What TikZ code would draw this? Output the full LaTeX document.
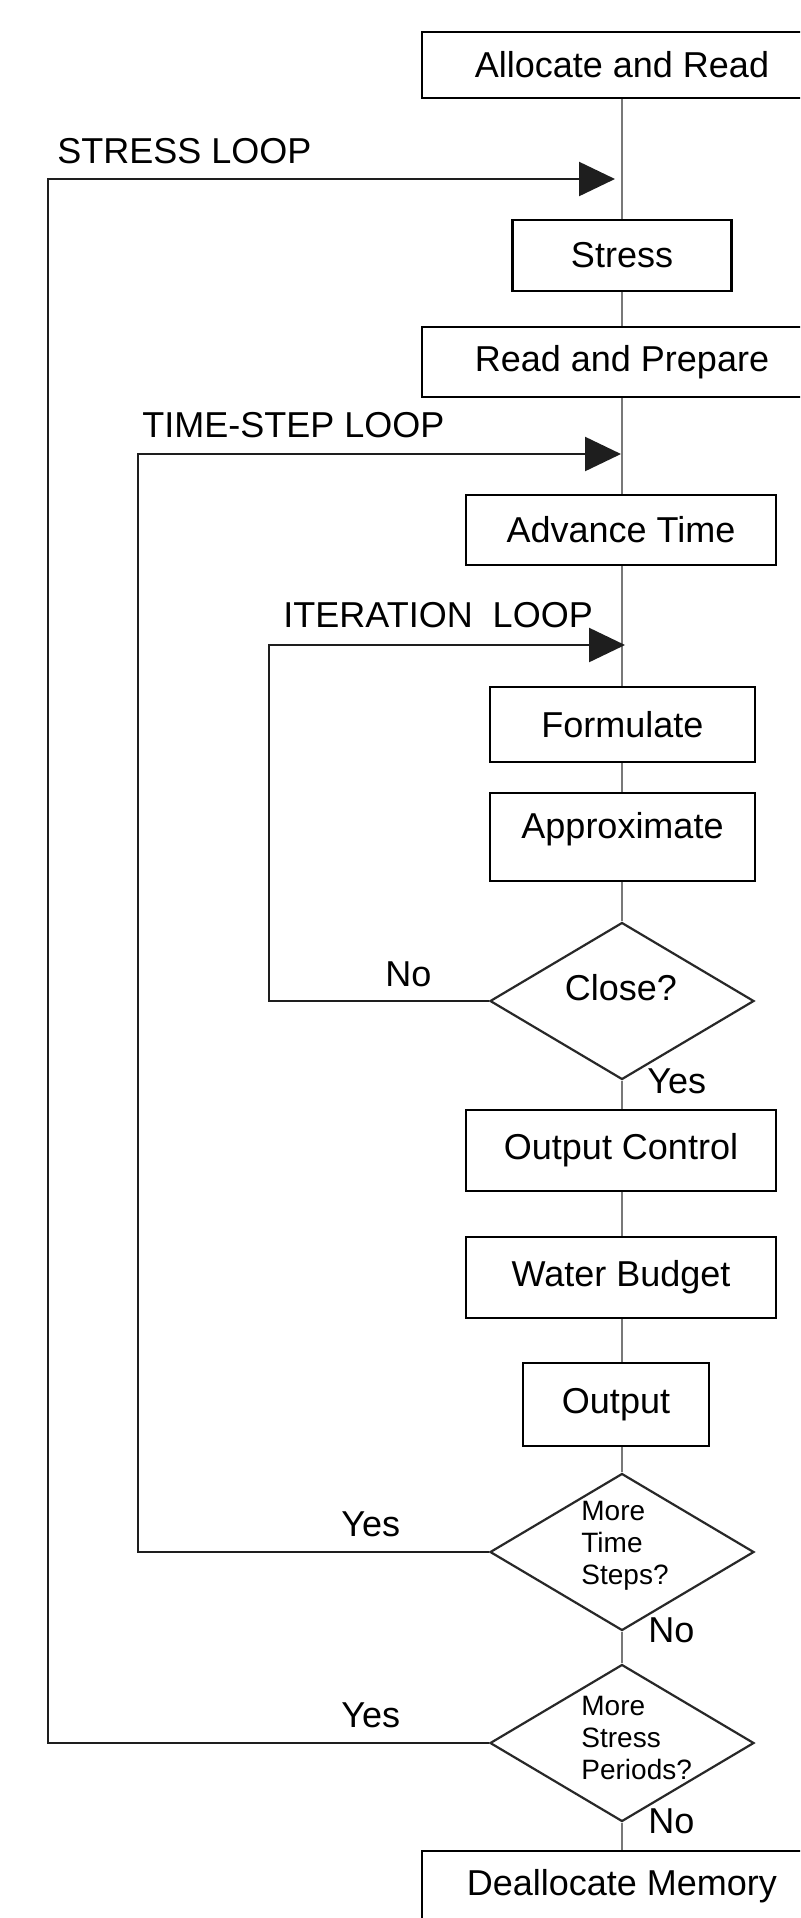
\documentclass[tikz,border=0pt]{standalone}
\usepackage{fontspec}
\setmainfont{Liberation Sans}
\usetikzlibrary{shapes.geometric,arrows.meta}
\definecolor{mline}{RGB}{120,120,120}
\definecolor{lline}{RGB}{30,30,30}
\definecolor{dline}{RGB}{40,40,40}
\tikzset{
  every node/.style={font=\fontsize{18pt}{21.6pt}\selectfont, text=black},
  stepbox/.style={draw=black, line width=1.2pt, rectangle, inner sep=0pt, fill=white},
  dia/.style={draw=dline, line width=1.1pt, diamond, inner sep=0pt, minimum width=132pt, minimum height=78.5pt, fill=white},
  mainln/.style={draw=mline, line width=1pt},
  loopln/.style={draw=lline, line width=1.2pt},
  looparr/.style={loopln, -{Triangle[length=18pt,width=17pt]}},
  lbl/.style={anchor=base west, inner sep=0pt},
  smalltxt/.style={font=\fontsize{14pt}{16pt}\selectfont, align=left, anchor=west, inner sep=0pt}
}
\begin{document}
\begin{tikzpicture}[x=0.5pt,y=-0.5pt]
\useasboundingbox (0,0) rectangle (800,1918);
\clip (0,0) rectangle (800,1918);
\fill[white] (0,0) rectangle (800,1918);

% boxes
\node[stepbox, minimum width=200pt, minimum height=33pt] (alloc) at (622,65) {Allocate and Read};
\node[stepbox, minimum width=109.5pt, minimum height=35.5pt] (stress) at (622,255.5) {Stress};
\node[stepbox, minimum width=200pt, minimum height=35pt] (readprep) at (622,362) {Read and Prepare};
\node[stepbox, minimum width=155pt, minimum height=35pt] (advance) at (621,530) {Advance Time};
\node[stepbox, minimum width=132.5pt, minimum height=37.5pt] (formulate) at (622.5,724.5) {Formulate};
\node[stepbox, minimum width=132.5pt, minimum height=44pt, text depth=12pt] (approx) at (622.5,837) {Approximate};
\node[dia] (close) at (622,1001) {};
\node[inner sep=0pt] (closetxt) at (621,988) {Close?};
\node[stepbox, minimum width=155pt, minimum height=40.5pt] (outctrl) at (621,1150.5) {Output Control};
\node[stepbox, minimum width=155pt, minimum height=40.5pt] (water) at (621,1277.5) {Water Budget};
\node[stepbox, minimum width=93pt, minimum height=41.5pt] (output) at (616,1404.5) {Output};
\node[dia] (timesteps) at (622,1552) {};
\node[smalltxt] (tstxt) at (581,1546) {More\\Time\\Steps?};
\node[dia] (stressper) at (622,1743) {};
\node[smalltxt] (sptxt) at (581,1738) {More\\Stress\\Periods?};
\node[stepbox, minimum width=200pt, minimum height=35pt] (dealloc) at (622,1886) {Deallocate Memory};

% main line
\draw[mainln] (alloc.south) -- (alloc.south |- stress.north);
\draw[mainln] (stress.south) -- (stress.south |- readprep.north);
\draw[mainln] (readprep.south) -- (readprep.south |- advance.north);
\draw[mainln] (readprep.south |- advance.south) -- (readprep.south |- formulate.north);
\draw[mainln] (readprep.south |- formulate.south) -- (readprep.south |- approx.north);
\draw[mainln] (readprep.south |- approx.south) -- (close.north);
\draw[mainln] (close.south) -- (close.south |- outctrl.north);
\draw[mainln] (close.south |- outctrl.south) -- (close.south |- water.north);
\draw[mainln] (close.south |- water.south) -- (close.south |- output.north);
\draw[mainln] (close.south |- output.south) -- (timesteps.north);
\draw[mainln] (timesteps.south) -- (stressper.north);
\draw[mainln] (stressper.south) -- (stressper.south |- dealloc.north);

% loops
\coordinate (sL) at (48,179);
\coordinate (sT) at (615,179);
\coordinate (tL) at (138,454);
\coordinate (tT) at (621,454);
\coordinate (iL) at (269,645);
\coordinate (iT) at (625,645);

\draw[looparr] (stressper.west) -| (sL) -- (sT);
\draw[looparr] (timesteps.west) -| (tL) -- (tT);
\draw[looparr] (close.west) -| (iL) -- (iT);

% labels
\node[lbl] (lstress) at (57,163) {STRESS LOOP};
\node[lbl] (ltime) at (142,437) {TIME-STEP LOOP};
\node[lbl] (liter) at (283,627) {ITERATION\ \ LOOP};
\node[lbl] (cno) at (385,986) {No};
\node[lbl] (cyes) at (647,1093) {Yes};
\node[lbl] (tyes) at (341,1536) {Yes};
\node[lbl] (tno) at (648,1642) {No};
\node[lbl] (syes) at (341,1727) {Yes};
\node[lbl] (sno) at (648,1833) {No};
\end{tikzpicture}
\end{document}
